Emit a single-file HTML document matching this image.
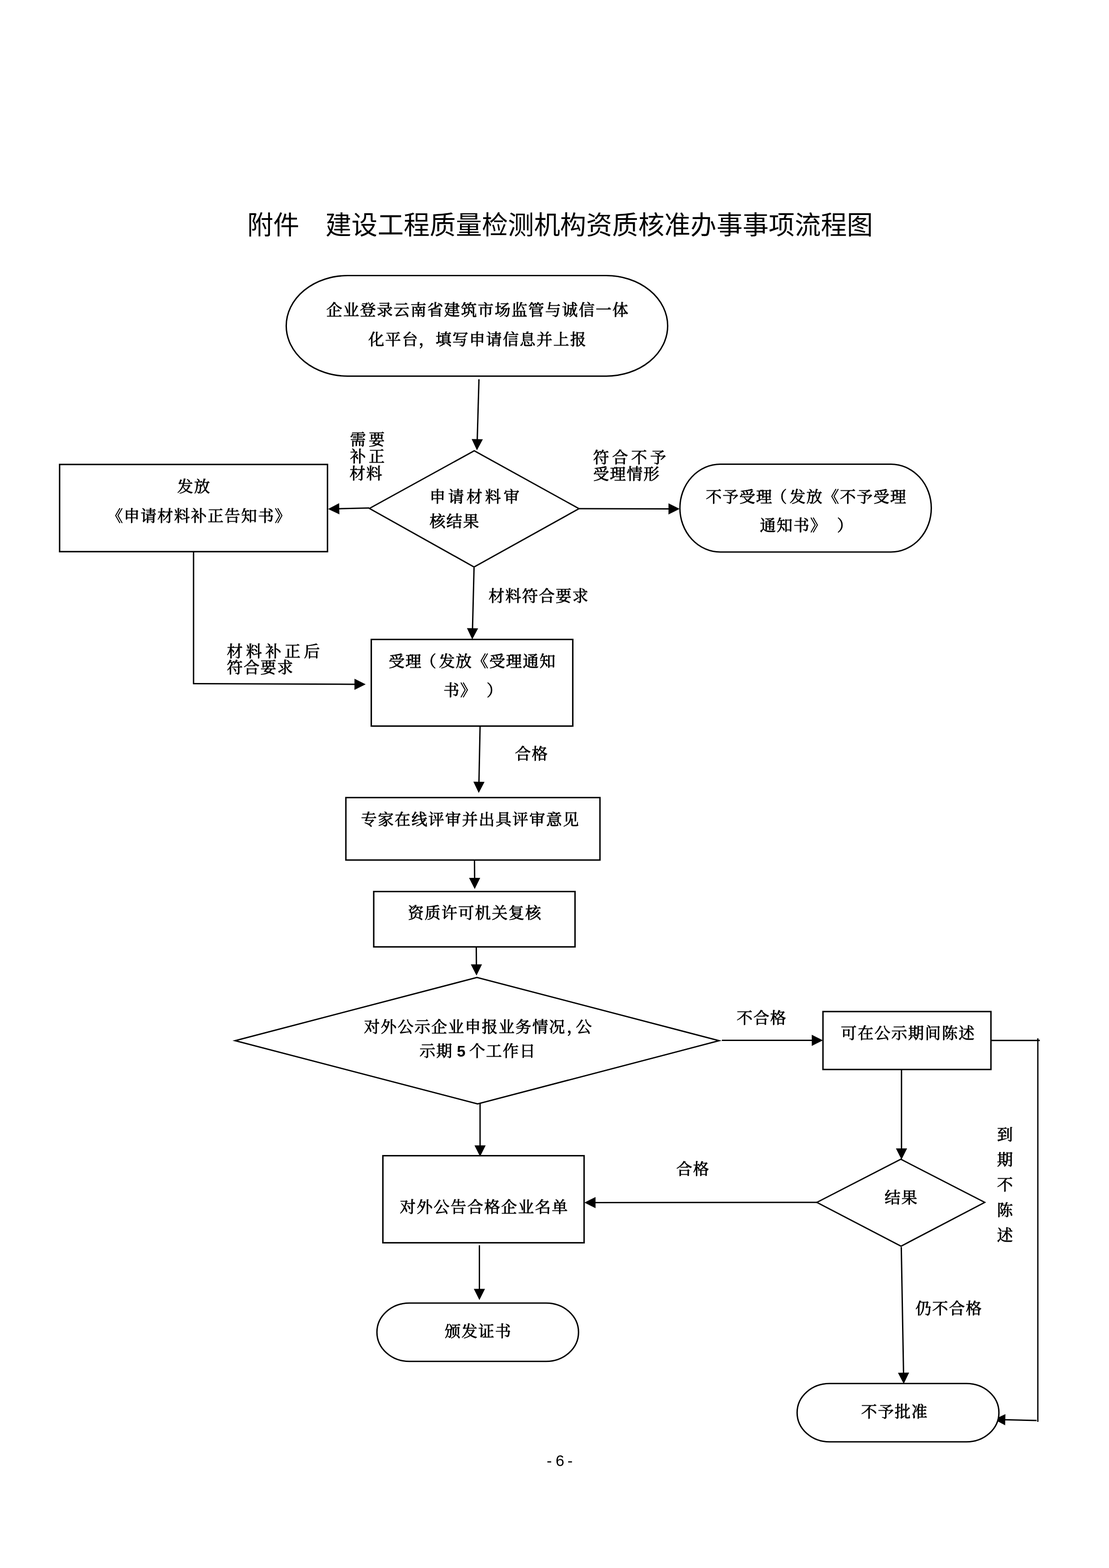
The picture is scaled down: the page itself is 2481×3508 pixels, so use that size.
<!DOCTYPE html>
<html lang="zh-CN">
<head>
<meta charset="utf-8">
<title>建设工程质量检测机构资质核准办事事项流程图</title>
<style>
html,body{margin:0;padding:0;background:#fff;}
body{width:2481px;height:3508px;overflow:hidden;}
svg{display:block;will-change:transform;}
text{fill:#000;white-space:pre;}
.s{font-family:"Liberation Serif","Noto Serif CJK SC",serif;font-size:35.5px;font-weight:400;stroke:#000;stroke-width:1px;stroke-linejoin:round;}
.t{font-family:"Liberation Sans","Noto Sans CJK SC",sans-serif;font-size:58.33px;font-weight:400;}
.p{font-family:"Liberation Sans","Noto Sans CJK SC",sans-serif;font-size:35px;font-weight:400;}
.num{font-family:"Liberation Sans",sans-serif;font-size:35px;font-weight:700;stroke:none;}
</style>
</head>
<body>
<svg width="2481" height="3508" viewBox="0 0 2481 3508">
<rect x="0" y="0" width="2481" height="3508" fill="#fff"/>
<g id="shapes">
<polyline points="2217.00,2327.70 2326.30,2327.70" fill="none" stroke="#000" stroke-width="3.0"/>
<polyline points="2321.80,2323.00 2321.80,3181.00" fill="none" stroke="#000" stroke-width="2.9"/>
<polyline points="2319.00,3178.00 2246.99,3176.18" fill="none" stroke="#000" stroke-width="3.0"/>
<polygon points="2224.00,3175.60 2249.31,3163.74 2248.68,3188.73" fill="#000"/>
<rect x="640.35" y="616.55" width="853.30" height="224.90" rx="137.28" ry="112.45" fill="#fff" stroke="#000" stroke-width="3.1"/>
<rect x="133.35" y="1039.10" width="599.30" height="195.05" fill="#fff" stroke="#000" stroke-width="3.2"/>
<polygon points="826.50,1137.50 1061.00,1008.50 1295.30,1138.00 1060.50,1268.50" fill="#fff" stroke="#000" stroke-width="3.0" stroke-linejoin="miter" stroke-miterlimit="10"/>
<rect x="1521.05" y="1038.55" width="562.40" height="196.40" rx="90.48" ry="98.20" fill="#fff" stroke="#000" stroke-width="3.1"/>
<rect x="830.60" y="1430.60" width="450.80" height="193.80" fill="#fff" stroke="#000" stroke-width="3.2"/>
<rect x="773.80" y="1784.40" width="568.40" height="139.70" fill="#fff" stroke="#000" stroke-width="3.2"/>
<rect x="836.10" y="1994.60" width="450.30" height="123.80" fill="#fff" stroke="#000" stroke-width="3.2"/>
<polygon points="526.00,2328.25 1067.00,2186.80 1608.80,2328.25 1068.50,2469.70" fill="#fff" stroke="#000" stroke-width="3.0" stroke-linejoin="miter" stroke-miterlimit="10"/>
<rect x="1841.10" y="2263.10" width="375.80" height="129.60" fill="#fff" stroke="#000" stroke-width="3.2"/>
<rect x="856.60" y="2585.60" width="450.10" height="194.80" fill="#fff" stroke="#000" stroke-width="3.2"/>
<polygon points="1827.50,2690.00 2015.30,2593.50 2203.00,2690.00 2015.80,2788.00" fill="#fff" stroke="#000" stroke-width="3.0" stroke-linejoin="miter" stroke-miterlimit="10"/>
<rect x="843.25" y="2915.25" width="451.00" height="130.50" rx="72.56" ry="65.25" fill="#fff" stroke="#000" stroke-width="3.1"/>
<rect x="1783.25" y="3095.25" width="451.50" height="130.50" rx="72.64" ry="65.25" fill="#fff" stroke="#000" stroke-width="3.1"/>
<polyline points="1071.50,848.50 1067.65,984.51" fill="none" stroke="#000" stroke-width="3.0"/>
<polygon points="1067.00,1007.50 1055.21,982.16 1080.20,982.86" fill="#000"/>
<polyline points="826.00,1136.50 756.99,1138.19" fill="none" stroke="#000" stroke-width="3.0"/>
<polygon points="734.00,1138.75 758.69,1125.64 759.30,1150.64" fill="#000"/>
<polyline points="1296.00,1138.00 1497.50,1138.45" fill="none" stroke="#000" stroke-width="3.0"/>
<polygon points="1520.50,1138.50 1495.47,1150.94 1495.53,1125.94" fill="#000"/>
<polyline points="1060.50,1270.00 1057.07,1407.51" fill="none" stroke="#000" stroke-width="3.0"/>
<polygon points="1056.50,1430.50 1044.63,1405.20 1069.62,1405.82" fill="#000"/>
<polyline points="433.00,1235.00 433.00,1530.50" fill="none" stroke="#000" stroke-width="3.0"/>
<polyline points="432.00,1529.50 795.00,1530.91" fill="none" stroke="#000" stroke-width="3.0"/>
<polygon points="818.00,1531.00 792.95,1543.40 793.05,1518.40" fill="#000"/>
<polyline points="1074.00,1626.00 1071.47,1751.00" fill="none" stroke="#000" stroke-width="3.0"/>
<polygon points="1071.00,1774.00 1059.01,1748.75 1084.00,1749.26" fill="#000"/>
<polyline points="1061.50,1925.00 1061.82,1966.00" fill="none" stroke="#000" stroke-width="3.0"/>
<polygon points="1062.00,1989.00 1049.31,1964.10 1074.30,1963.90" fill="#000"/>
<polyline points="1065.50,2120.00 1065.82,2159.50" fill="none" stroke="#000" stroke-width="3.0"/>
<polygon points="1066.00,2182.50 1053.30,2157.60 1078.30,2157.40" fill="#000"/>
<polyline points="1615.00,2327.50 1818.00,2327.50" fill="none" stroke="#000" stroke-width="3.0"/>
<polygon points="1841.00,2327.50 1816.00,2340.00 1816.00,2315.00" fill="#000"/>
<polyline points="1074.00,2469.00 1074.00,2564.50" fill="none" stroke="#000" stroke-width="3.0"/>
<polygon points="1074.00,2587.50 1061.50,2562.50 1086.50,2562.50" fill="#000"/>
<polyline points="1072.50,2786.00 1072.50,2885.50" fill="none" stroke="#000" stroke-width="3.0"/>
<polygon points="1072.50,2908.50 1060.00,2883.50 1085.00,2883.50" fill="#000"/>
<polyline points="2016.80,2393.00 2016.80,2571.20" fill="none" stroke="#000" stroke-width="3.0"/>
<polygon points="2016.80,2594.20 2004.30,2569.20 2029.30,2569.20" fill="#000"/>
<polyline points="1828.00,2690.00 1330.30,2690.48" fill="none" stroke="#000" stroke-width="3.0"/>
<polygon points="1307.30,2690.50 1332.29,2677.98 1332.31,2702.98" fill="#000"/>
<polyline points="2016.30,2790.00 2021.39,3073.00" fill="none" stroke="#000" stroke-width="3.0"/>
<polygon points="2021.80,3096.00 2008.85,3071.23 2033.85,3070.78" fill="#000"/>
</g>
<g id="labels">
<text class="t" x="553.0" y="524.0">附件　<tspan x="728">建设工程质量检测机构资质核准办事事项流程图</tspan></text>
<text class="s" x="730.0" y="706.2" style="letter-spacing:2.15px">企业登录云南省建筑市场监管与诚信一体</text>
<text class="s" x="824.0" y="772.2" style="letter-spacing:2.12px">化平台，填写申请信息并上报</text>
<text class="s" x="396.5" y="1101.2" style="letter-spacing:2.15px">发放</text>
<text class="s" x="239.5" y="1166.7" style="letter-spacing:2.00px">《申请材料补正告知书》</text>
<text class="s" x="783.0" y="996.2" style="letter-spacing:6.50px">需要</text>
<text class="s" x="783.0" y="1033.7" style="letter-spacing:6.50px">补正</text>
<text class="s" x="782.0" y="1071.7" style="letter-spacing:2.00px">材料</text>
<text class="s" x="961.0" y="1124.2" style="letter-spacing:5.90px">申请材料审</text>
<text class="s" x="961.0" y="1178.7" style="letter-spacing:2.00px">核结果</text>
<text class="s" x="1327.0" y="1036.2" style="letter-spacing:7.00px">符合不予</text>
<text class="s" x="1327.0" y="1073.2" style="letter-spacing:2.00px">受理情形</text>
<text class="s" x="1579.0" y="1124.2" style="letter-spacing:2.00px">不予受理<tspan dx="-4">（</tspan><tspan dx="4">发</tspan>放《不予受理</text>
<text class="s" x="1700.0" y="1188.2" style="letter-spacing:2.00px">通知书》 <tspan dx="11.5">）</tspan></text>
<text class="s" x="1093.0" y="1345.7" style="letter-spacing:2.00px">材料符合要求</text>
<text class="s" x="507.5" y="1469.7" style="letter-spacing:7.60px">材料补正后</text>
<text class="s" x="507.5" y="1506.2" style="letter-spacing:2.00px">符合要求</text>
<text class="s" x="869.5" y="1492.2" style="letter-spacing:2.00px">受理<tspan dx="-4">（</tspan><tspan dx="4">发</tspan>放《受理通知</text>
<text class="s" x="992.0" y="1557.2" style="letter-spacing:2.00px">书》 <tspan dx="10.5">）</tspan></text>
<text class="s" x="1152.0" y="1698.7" style="letter-spacing:2.00px">合格</text>
<text class="s" x="807.5" y="1846.2" style="letter-spacing:2.15px">专家在线评审并出具评审意见</text>
<text class="s" x="912.5" y="2055.2" style="letter-spacing:2.00px">资质许可机关复核</text>
<text class="s" x="814.2" y="2309.9" style="letter-spacing:2.15px">对外公示企业申报业务情况<tspan dx="2">，</tspan><tspan dx="-17.5">公</tspan></text>
<text class="s" x="938.5" y="2364.2" style="letter-spacing:2.00px">示期 <tspan x="1022" class="num">5</tspan> <tspan x="1049.7">个工作日</tspan></text>
<text class="s" x="1648.0" y="2290.2" style="letter-spacing:2.00px">不合格</text>
<text class="s" x="1881.0" y="2324.2" style="letter-spacing:2.15px">可在公示期间陈述</text>
<text class="s" x="1513.0" y="2627.7" style="letter-spacing:2.00px">合格</text>
<text class="s" x="894.5" y="2712.7" style="letter-spacing:2.27px">对外公告合格企业名单</text>
<text class="s" x="1979.0" y="2691.7" style="letter-spacing:2.00px">结果</text>
<text class="s" x="2230.5" y="2550.7" style="letter-spacing:2.00px"><tspan x="2230.5" y="2550.7">到</tspan><tspan x="2230.5" y="2607.0">期</tspan><tspan x="2230.5" y="2663.3">不</tspan><tspan x="2230.5" y="2719.6">陈</tspan><tspan x="2230.5" y="2775.9">述</tspan></text>
<text class="s" x="2048.0" y="2940.2" style="letter-spacing:2.00px">仍不合格</text>
<text class="s" x="995.0" y="2991.2" style="letter-spacing:2.00px">颁发证书</text>
<text class="s" x="1926.5" y="3171.2" style="letter-spacing:2.00px">不予批准</text>
<text class="p" x="1222.9" y="3280.0">- <tspan dx="-1.2">6</tspan> <tspan dx="-2.7">-</tspan></text>
</g>
</svg>
</body>
</html>
